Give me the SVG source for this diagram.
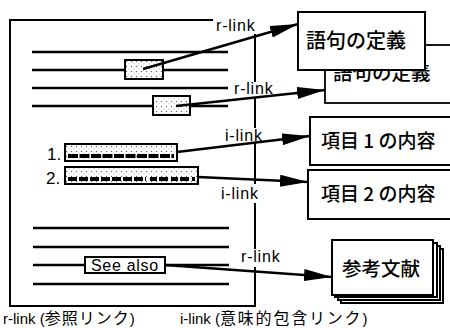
<svg xmlns="http://www.w3.org/2000/svg" width="450" height="328" viewBox="0 0 450 328">
<style>
.ln{stroke:#000;stroke-width:2.3;fill:none}
.fr{stroke:#000;stroke-width:2;fill:none}
.box{fill:#fff;stroke:#000;stroke-width:2}
.lat{font-family:"Liberation Sans",Arial,sans-serif;fill:#000}
.lbl{font-family:"Liberation Sans",Arial,sans-serif;fill:#000;font-size:16px;letter-spacing:0.8px}
.jp{font-family:"Noto Sans CJK JP","Noto Sans",sans-serif;fill:#000;font-weight:500}
.jpl{font-family:"Noto Sans CJK JP","Noto Sans",sans-serif;font-size:16px}
.arr{stroke:#000;stroke-width:2.6;fill:none;marker-end:url(#ah)}
.bg{fill:#fff}
</style>
<defs>
<marker id="ah" markerUnits="userSpaceOnUse" markerWidth="30" markerHeight="14" refX="28" refY="6" orient="auto">
<path d="M0,0 L28,6 L0,12 z" fill="#000"/>
</marker>
<pattern id="dots" width="5" height="5" patternUnits="userSpaceOnUse">
<rect width="5" height="5" fill="#fff"/>
<circle cx="1.5" cy="1.5" r="0.7" fill="#666"/>
<circle cx="4" cy="3.8" r="0.5" fill="#999"/>
</pattern>
</defs>

<g id="document">
<path class="fr" d="M214,20 H10 V306 H256"/>
<line class="fr" x1="255" y1="22" x2="255" y2="306"/>
<g class="ln">
<line x1="32" y1="52" x2="228" y2="52"/>
<line x1="32" y1="70" x2="228" y2="70"/>
<line x1="32" y1="88" x2="228" y2="88"/>
<line x1="32" y1="106" x2="228" y2="106"/>
<line x1="33" y1="228" x2="229" y2="228"/>
<line x1="33" y1="247" x2="229" y2="247"/>
<line x1="33" y1="265" x2="229" y2="265"/>
<line x1="33" y1="284" x2="229" y2="284"/>
</g>
<rect x="125" y="60" width="38" height="19" fill="url(#dots)" stroke="#000" stroke-width="2"/>
<rect x="153" y="96" width="37" height="19" fill="url(#dots)" stroke="#000" stroke-width="2"/>
<text class="lat" x="47" y="160" font-size="17">1.</text>
<rect x="65" y="144" width="112" height="17" fill="url(#dots)" stroke="#000" stroke-width="2"/>
<line x1="68" y1="156" x2="174" y2="156" stroke="#000" stroke-width="4" stroke-dasharray="10,1.5"/>
<text class="lat" x="46" y="184" font-size="17">2.</text>
<rect x="65" y="167" width="133" height="17" fill="url(#dots)" stroke="#000" stroke-width="2"/>
<line x1="68" y1="179" x2="146" y2="179" stroke="#000" stroke-width="4" stroke-dasharray="9,2"/>
<line x1="150" y1="179" x2="195" y2="179" stroke="#000" stroke-width="4" stroke-dasharray="7,2,9,3"/>
<rect x="85" y="257" width="80" height="16" class="box"/>
<text class="lat" x="91" y="271" font-size="16" letter-spacing="0.7">See also</text>
</g>

<g id="labels">
<rect class="bg" x="213" y="14" width="48" height="20"/>
<text class="lbl" x="216" y="31">r-link</text>
<rect class="bg" x="232" y="82" width="48" height="15"/>
<text class="lbl" x="234" y="94">r-link</text>
<rect class="bg" x="223" y="128" width="42" height="15"/>
<text class="lbl" x="225" y="141">i-link</text>
<rect class="bg" x="219" y="184" width="44" height="19"/>
<text class="lbl" x="221" y="199">i-link</text>
<rect class="bg" x="239" y="249" width="46" height="18"/>
<text class="lbl" x="241" y="262">r-link</text>
</g>

<g id="node-term-back">
<rect x="325" y="45" width="130" height="58" fill="#fff" stroke="#000" stroke-width="1.8"/>
<text class="jp" x="333" y="80" font-size="19.5">語句の定義</text>
</g>
<g id="node-term-front">
<rect x="298" y="12" width="127" height="58" class="box"/>
<text class="jp" x="306" y="48" font-size="20">語句の定義</text>
</g>
<g id="node-item1">
<rect x="310" y="117" width="145" height="48" class="box"/>
<text class="jp" x="321" y="148" font-size="19">項目 1 の内容</text>
</g>
<g id="node-item2">
<rect x="308" y="170" width="147" height="49" class="box"/>
<text class="jp" x="321" y="201" font-size="19">項目 2 の内容</text>
</g>
<g id="node-refs">
<rect x="341" y="249" width="102" height="54" class="box" stroke-width="1.5"/>
<rect x="338" y="246" width="102" height="54" class="box" stroke-width="1.5"/>
<rect x="335" y="243" width="102" height="54" class="box" stroke-width="1.5"/>
<rect x="332" y="240" width="101" height="55" class="box"/>
<text class="jp" x="342" y="276" font-size="19.5">参考文献</text>
</g>

<g id="connectors">
<line class="arr" x1="143" y1="69" x2="298" y2="24"/>
<line class="arr" x1="176" y1="106" x2="325" y2="90"/>
<line class="arr" x1="177" y1="152" x2="310" y2="136"/>
<line class="arr" x1="198" y1="177" x2="308" y2="182"/>
<line class="arr" x1="165" y1="265" x2="332" y2="277"/>
</g>

<g id="legend">
<text class="lat" x="3" y="324" font-size="15">r-link (<tspan class="jpl" letter-spacing="1">参照リンク</tspan>)</text>
<text class="lat" x="180" y="324" font-size="15">i-link (<tspan class="jpl" letter-spacing="1.8">意味的包含リンク</tspan>)</text>
</g>
</svg>
